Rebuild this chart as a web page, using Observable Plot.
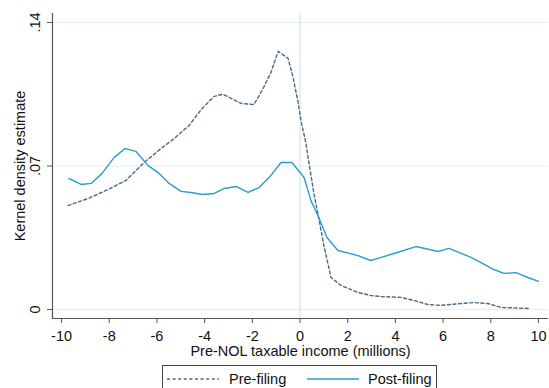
<!DOCTYPE html>
<html>
<head>
<meta charset="utf-8">
<script src="https://cdn.jsdelivr.net/npm/d3@7"></script>
<script src="https://cdn.jsdelivr.net/npm/@observablehq/plot@0.6"></script>
<style>
  body { margin: 0; background: #fff; font-family: "Liberation Sans", Arial, sans-serif; }
  #wrap { position: relative; width: 549px; height: 388px; overflow: hidden; background: #fff; }
  #legend { position: absolute; left: 162px; top: 365px; width: 275px; height: 40px; border: 1px solid #444; box-sizing: border-box; font-size: 14.5px; color: #111; }
  #legend svg { display: block; }
</style>
</head>
<body>
<div id="wrap">
  <div id="chart"></div>
  <div id="legend"></div>
</div>
<script>
// ---- Data ----
const preX = [-9.73, -8.9, -8.05, -7.3, -7.09, -6.54, -5.83, -5.28, -4.65, -4.15, -3.6, -3.23, -2.81, -2.47, -1.93, -1.55, -1.22, -0.92, -0.5, -0.29, -0.08, 0.04, 0.25, 0.34, 0.59, 0.75, 1.0, 1.3, 1.72, 2.43, 2.98, 3.4, 4.23, 4.78, 5.37, 5.91, 6.75, 7.3, 7.88, 8.43, 9.6];
const preY = [0.0507, 0.0541, 0.0585, 0.0630, 0.0654, 0.0717, 0.0785, 0.0834, 0.0898, 0.0975, 0.1040, 0.1050, 0.1025, 0.1005, 0.1000, 0.1078, 0.1156, 0.1259, 0.1225, 0.1132, 0.1010, 0.0922, 0.0810, 0.0741, 0.0560, 0.0468, 0.0312, 0.0156, 0.0117, 0.0083, 0.0068, 0.0063, 0.0059, 0.0044, 0.0024, 0.0020, 0.0029, 0.0034, 0.0029, 0.0010, 0.0005];
const postX = [-9.69, -9.18, -8.76, -8.3, -7.8, -7.34, -6.88, -6.37, -5.95, -5.49, -4.99, -4.57, -4.1, -3.6, -3.19, -2.68, -2.18, -1.72, -1.22, -0.8, -0.34, 0.17, 0.46, 0.75, 1.13, 1.59, 2.43, 2.96, 3.4, 3.94, 4.86, 5.79, 6.25, 7.17, 7.59, 8.13, 8.55, 9.06, 9.56, 10.0];
const postY = [0.0639, 0.0610, 0.0615, 0.0664, 0.0741, 0.0785, 0.0771, 0.0702, 0.0668, 0.0615, 0.0576, 0.0571, 0.0561, 0.0566, 0.0590, 0.0600, 0.0571, 0.0595, 0.0654, 0.0717, 0.0717, 0.0644, 0.0530, 0.0459, 0.0351, 0.0288, 0.0263, 0.0239, 0.0254, 0.0273, 0.0307, 0.0283, 0.0298, 0.0254, 0.0229, 0.0195, 0.0176, 0.0180, 0.0156, 0.0137];
const xTicks = [-10, -8, -6, -4, -2, 0, 2, 4, 6, 8, 10];
const yTicks = [0, 0.07, 0.14];
const yTickLabels = ["0", ".07", ".14"];
const seriesNames = ["Pre-filing", "Post-filing"];
const xTitle = "Pre-NOL taxable income (millions)";
const yTitle = "Kernel density estimate";

const pre = preX.map((x, i) => ({x, y: preY[i]}));
const post = postX.map((x, i) => ({x, y: postY[i]}));

const xDomain = [-10.38, 10.42];
const yDomain = [-0.0044, 0.1444];
const preColor = "#4a6a86";
const postColor = "#2a9dd2";

const chart = Plot.plot({
  width: 549,
  height: 362,
  marginLeft: 52,
  marginRight: 1,
  marginTop: 13,
  marginBottom: 44,
  style: { fontSize: "14.5px", fontFamily: "Liberation Sans, Arial, sans-serif", color: "#111", background: "#fff" },
  x: { domain: xDomain },
  y: { domain: yDomain },
  marks: [
    Plot.gridY(yTicks, { stroke: "#e2eef1", strokeOpacity: 1 }),
    Plot.ruleX([0], { stroke: "#d6e4ea", strokeWidth: 1.2 }),
    Plot.line(pre, { x: "x", y: "y", stroke: preColor, strokeWidth: 1.4, strokeDasharray: "3,2.6" }),
    Plot.line(post, { x: "x", y: "y", stroke: postColor, strokeWidth: 1.4 }),
    Plot.ruleX([xDomain[0]], { stroke: "#555", strokeWidth: 1.2 }),
    Plot.ruleY([yDomain[0]], { stroke: "#555", strokeWidth: 1.2 }),
    Plot.axisX({ ticks: xTicks, tickSize: 5, tickPadding: 7, stroke: "#555", tickFormat: d => String(d),
      label: xTitle, labelAnchor: "center", labelOffset: 37, labelArrow: "none" }),
    Plot.axisY({ ticks: yTicks, tickSize: 5, tickPadding: 8, tickRotate: -90, stroke: "#555",
      tickFormat: d => yTickLabels[yTicks.indexOf(d)],
      label: yTitle, labelAnchor: "center", labelOffset: 38, labelArrow: "none" })
  ]
});
document.getElementById("chart").appendChild(chart);

// ---- Legend (below the chart) ----
const legend = document.getElementById("legend");
const legendItems = [
  { name: seriesNames[0], color: preColor, dash: "3,2.6", left: 4, textLeft: 66 },
  { name: seriesNames[1], color: postColor, dash: null, left: 144, textLeft: 205 }
];
legendItems.forEach(it => {
  const s = document.createElementNS("http://www.w3.org/2000/svg", "svg");
  s.setAttribute("width", 52); s.setAttribute("height", 16);
  s.style.position = "absolute"; s.style.left = it.left + "px"; s.style.top = "5px";
  const l = document.createElementNS("http://www.w3.org/2000/svg", "line");
  l.setAttribute("x1", 0); l.setAttribute("x2", 52); l.setAttribute("y1", 8); l.setAttribute("y2", 8);
  l.setAttribute("stroke", it.color); l.setAttribute("stroke-width", 1.3);
  if (it.dash) l.setAttribute("stroke-dasharray", it.dash);
  s.appendChild(l);
  legend.appendChild(s);
  const t = document.createElement("div");
  t.textContent = it.name;
  t.style.position = "absolute"; t.style.left = it.textLeft + "px"; t.style.top = "5px";
  t.style.lineHeight = "16px";
  legend.appendChild(t);
});
</script>
</body>
</html>
